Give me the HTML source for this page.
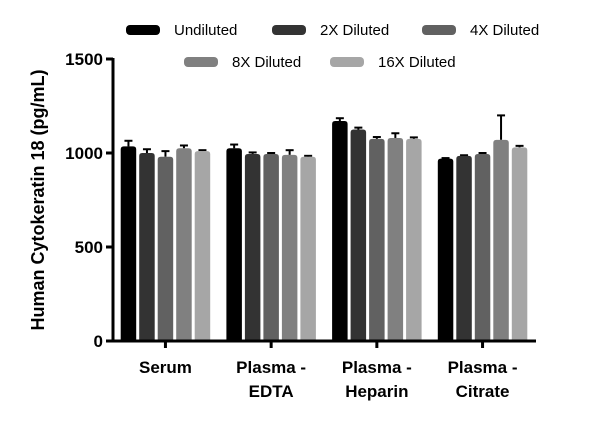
<!DOCTYPE html>
<html><head><meta charset="utf-8"><style>
body{margin:0;background:#fff;}
svg text{font-family:"Liberation Sans",sans-serif;}
</style></head><body>
<svg id="chart" width="600" height="433" viewBox="0 0 600 433"></svg>
<script>
const categories=[["Serum"],["Plasma -","EDTA"],["Plasma -","Heparin"],["Plasma -","Citrate"]];
const seriesNames=["Undiluted","2X Diluted","4X Diluted","8X Diluted","16X Diluted"];
const seriesColors=["#000000","#333333","#616161","#808080","#a6a6a6"];
const undiluted=[1035,1025,1170,970];
const diluted2x=[1000,995,1125,985];
const diluted4x=[980,995,1075,995];
const diluted8x=[1025,990,1080,1070];
const diluted16x=[1010,980,1075,1030];
const errUndiluted=[30,20,15,3];
const err2x=[20,8,10,3];
const err4x=[30,5,10,5];
const err8x=[15,25,25,130];
const err16x=[5,5,8,8];
const yTicks=[0,500,1000,1500];
const values=[undiluted,diluted2x,diluted4x,diluted8x,diluted16x];
const errors=[errUndiluted,err2x,err4x,err8x,err16x];
const NS="http://www.w3.org/2000/svg";
const svg=document.getElementById("chart");
const y0=341,pxPer=188/1000,axisX=113,axisEnd=536;
const yScale=v=>y0-v*pxPer;
const groupStart=i=>120.7+i*105.7;
const barW=15.5,barStep=18.5;
function mk(tag,attrs){const e=document.createElementNS(NS,tag);for(const k in attrs)e.setAttribute(k,attrs[k]);svg.appendChild(e);return e;}
// bars
values.forEach((arr,s)=>{arr.forEach((v,g)=>{
  const x=groupStart(g)+s*barStep, top=yScale(v), e=errors[s][g];
  const eb=mk("line",{x1:x+barW/2,x2:x+barW/2,y1:yScale(v+e),y2:top,stroke:"#000","stroke-width":2});
  
  
  const cap=mk("line",{x1:x+barW/2-4,x2:x+barW/2+4,y1:yScale(v+e),y2:yScale(v+e),stroke:"#000","stroke-width":2});
  
  
  const r=mk("path",{d:`M${x},${y0} L${x},${top+3} Q${x},${top} ${x+3},${top} L${x+barW-3},${top} Q${x+barW},${top} ${x+barW},${top+3} L${x+barW},${y0} Z`,fill:seriesColors[s]});
  
  
});});
// axes
const ya=mk("line",{x1:axisX,x2:axisX,y1:yScale(1500)-1,y2:y0+1.5,stroke:"#000","stroke-width":3});


const xa=mk("line",{x1:axisX-1.5,x2:axisEnd,y1:y0,y2:y0,stroke:"#000","stroke-width":3});


yTicks.forEach(t=>{
  const tk=mk("line",{x1:axisX-7,x2:axisX,y1:yScale(t),y2:yScale(t),stroke:"#000","stroke-width":3});
  
  
  const tl=mk("text",{x:103,y:yScale(t)+6,"text-anchor":"end","font-size":17,"font-weight":"bold"});
  tl.textContent=t;
  
  
});
categories.forEach((c,g)=>{
  const cx=groupStart(g)+2*barStep+barW/2;
  const tk=mk("line",{x1:cx,x2:cx,y1:y0,y2:y0+7,stroke:"#000","stroke-width":3});
  
  
  c.forEach((line,li)=>{
    const t=mk("text",{x:cx,y:373+li*24,"text-anchor":"middle","font-size":17,"font-weight":"bold"});
    t.textContent=line;
    
    
  });
});
const yt=mk("text",{x:0,y:0,transform:"translate(44,200) rotate(-90)","text-anchor":"middle","font-size":18,"font-weight":"bold"});
yt.textContent="Human Cytokeratin 18 (pg/mL)";


// legend
const legendPos=[[126,30],[272,30],[422,30],[184,62],[330,62]];
seriesNames.forEach((n,s)=>{
  const [lx,ly]=legendPos[s];
  const sw=mk("rect",{x:lx,y:ly-5,width:34,height:10,rx:4,fill:seriesColors[s]});
  
  
  const t=mk("text",{x:lx+48,y:ly+5,"font-size":15,fill:"#000"});
  t.textContent=n;
  
  
});
</script>
</body></html>
